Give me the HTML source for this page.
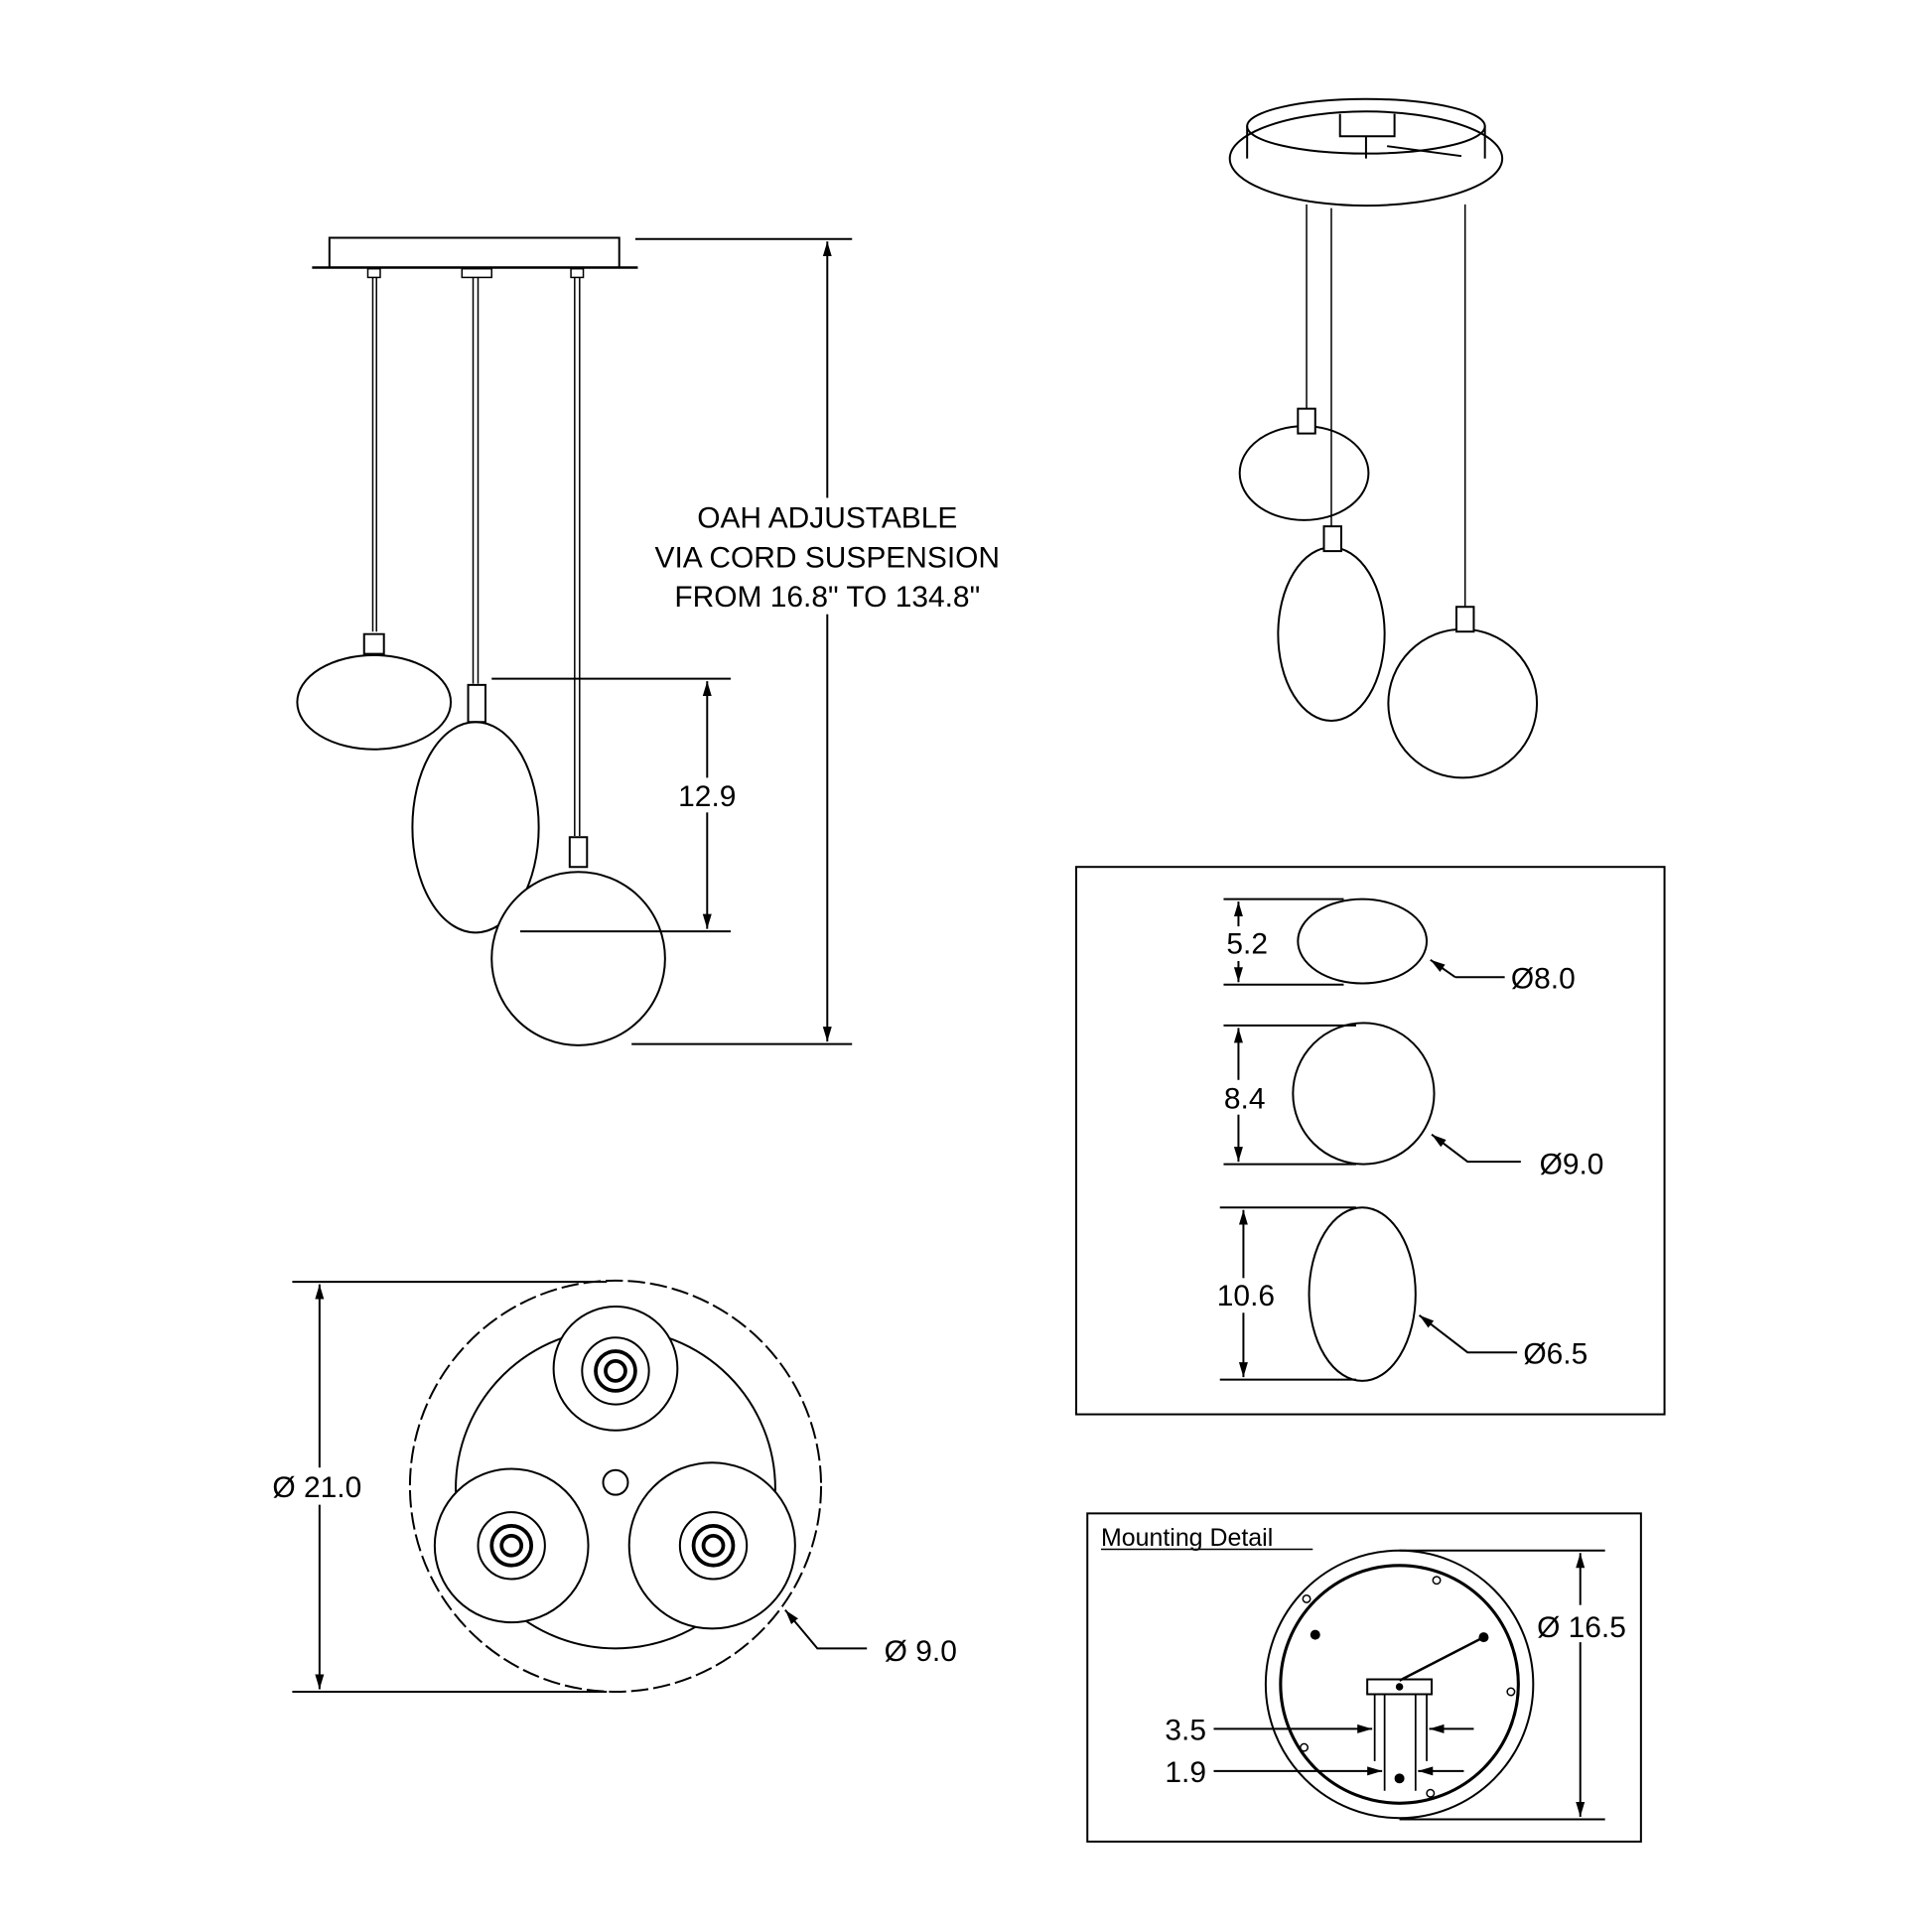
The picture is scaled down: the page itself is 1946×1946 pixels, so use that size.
<!DOCTYPE html>
<html><head><style>html,body{margin:0;padding:0;background:#fff}svg{display:block}</style></head><body>
<svg width="1946" height="1946" viewBox="0 0 1560 1560" xmlns="http://www.w3.org/2000/svg" font-family="'Liberation Sans', sans-serif" fill="none" stroke="#000" stroke-width="1.6">
<defs><marker id="a" viewBox="0 0 10 10" refX="10" refY="5" markerWidth="12" markerHeight="12" orient="auto-start-reverse" markerUnits="userSpaceOnUse"><path d="M0,2 L10,5 L0,8z" fill="#000" stroke="none"/></marker></defs>
<!-- Elevation -->
<rect x="266" y="192" width="234" height="24"/>
<line x1="252" y1="216" x2="515" y2="216" stroke-width="2"/>
<line x1="513" y1="193" x2="688" y2="193"/>
<line x1="510" y1="843" x2="688" y2="843"/>
<line x1="668" y1="195" x2="668" y2="841" marker-start="url(#a)" marker-end="url(#a)"/>
<g stroke-width="1.2">
<rect x="297" y="217" width="10" height="7"/><rect x="373" y="217" width="24" height="7"/><rect x="461" y="217" width="10" height="7"/>
<line x1="301" y1="224" x2="301" y2="510"/><line x1="304" y1="224" x2="304" y2="510"/>
<line x1="382" y1="224" x2="382" y2="552"/><line x1="386" y1="224" x2="386" y2="552"/>
<line x1="464" y1="224" x2="464" y2="675"/><line x1="468" y1="224" x2="468" y2="675"/>
</g>
<path d="M294,512 h16 v16 h-16z M378,553 h14 v30 h-14z M460,676 h14 v24 h-14z" fill="#fff"/>
<ellipse cx="302" cy="567" rx="62" ry="38"/>
<ellipse cx="384" cy="668" rx="51" ry="85"/>
<circle cx="467" cy="774" r="70" fill="#fff"/>
<line x1="397" y1="548" x2="590" y2="548"/>
<line x1="420" y1="752" x2="590" y2="752"/>
<line x1="571" y1="550" x2="571" y2="750" marker-start="url(#a)" marker-end="url(#a)"/>
<rect x="545" y="628" width="52" height="28" fill="#fff" stroke="none"/>
<rect x="522" y="402" width="296" height="94" fill="#fff" stroke="none"/>
<g fill="#000" stroke="none" font-size="24">
<text x="571" y="651" text-anchor="middle">12.9</text>
<text x="668" y="426" text-anchor="middle">OAH ADJUSTABLE</text>
<text x="668" y="458" text-anchor="middle">VIA CORD SUSPENSION</text>
<text x="668" y="490" text-anchor="middle">FROM 16.8" TO 134.8"</text>
</g>
<!-- Iso view -->
<ellipse cx="1103" cy="128" rx="110" ry="38"/>
<ellipse cx="1103" cy="102" rx="96" ry="22"/>
<line x1="1007" y1="102" x2="1007" y2="128"/><line x1="1199" y1="102" x2="1199" y2="128"/>
<path d="M1082,92 v18 h44 v-18 M1103,110 v18 M1120,118 l60,8"/>
<g stroke-width="1.2">
<line x1="1055" y1="165" x2="1055" y2="330"/><line x1="1075" y1="168" x2="1075" y2="425"/><line x1="1183" y1="165" x2="1183" y2="490"/>
</g>
<ellipse cx="1053" cy="382" rx="52" ry="38"/>
<ellipse cx="1075" cy="512" rx="43" ry="70" fill="#fff"/>
<circle cx="1181" cy="568" r="60"/>
<rect x="1048" y="330" width="14" height="20" fill="#fff"/><rect x="1069" y="425" width="14" height="20" fill="#fff"/><rect x="1176" y="490" width="14" height="20" fill="#fff"/>
<!-- Right box -->
<rect x="869" y="700" width="475" height="442"/>
<ellipse cx="1100" cy="760" rx="52" ry="34"/>
<line x1="988" y1="726" x2="1085" y2="726"/><line x1="988" y1="795" x2="1085" y2="795"/>
<line x1="1000" y1="728" x2="1000" y2="793" marker-start="url(#a)" marker-end="url(#a)"/>
<path d="M1175,789 H1215 M1175,789 L1155,775" marker-end="url(#a)"/>
<circle cx="1101" cy="883" r="57"/>
<line x1="988" y1="828" x2="1095" y2="828"/><line x1="988" y1="940" x2="1095" y2="940"/>
<line x1="1000" y1="830" x2="1000" y2="938" marker-start="url(#a)" marker-end="url(#a)"/>
<path d="M1228,938 H1185 L1156,916" marker-end="url(#a)"/>
<ellipse cx="1100" cy="1045" rx="43" ry="70"/>
<line x1="985" y1="975" x2="1095" y2="975"/><line x1="985" y1="1114" x2="1095" y2="1114"/>
<line x1="1004" y1="977" x2="1004" y2="1112" marker-start="url(#a)" marker-end="url(#a)"/>
<path d="M1225,1092 H1185 L1146,1062" marker-end="url(#a)"/>
<rect x="980" y="748" width="50" height="28" fill="#fff" stroke="none"/>
<rect x="980" y="872" width="50" height="28" fill="#fff" stroke="none"/>
<rect x="978" y="1032" width="56" height="28" fill="#fff" stroke="none"/>
<g fill="#000" stroke="none" font-size="24">
<text x="1007" y="770" text-anchor="middle">5.2</text>
<text x="1005" y="895" text-anchor="middle">8.4</text>
<text x="1006" y="1054" text-anchor="middle">10.6</text>
<text x="1220" y="798">Ø8.0</text>
<text x="1243" y="948">Ø9.0</text>
<text x="1230" y="1101">Ø6.5</text>
</g>
<!-- Plan view -->
<circle cx="497" cy="1200" r="166" stroke-dasharray="14 4"/>
<circle cx="497" cy="1202" r="129"/>
<g fill="#fff">
<circle cx="497" cy="1105" r="50"/><circle cx="413" cy="1248" r="62"/><circle cx="575" cy="1248" r="67"/>
</g>
<g>
<circle cx="497" cy="1107" r="27"/><circle cx="497" cy="1107" r="16" stroke-width="3"/><circle cx="497" cy="1107" r="8" stroke-width="3"/>
<circle cx="413" cy="1248" r="27"/><circle cx="413" cy="1248" r="16" stroke-width="3"/><circle cx="413" cy="1248" r="8" stroke-width="3"/>
<circle cx="576" cy="1248" r="27"/><circle cx="576" cy="1248" r="16" stroke-width="3"/><circle cx="576" cy="1248" r="8" stroke-width="3"/>
<circle cx="497" cy="1197" r="10"/>
</g>
<line x1="236" y1="1035" x2="490" y2="1035"/><line x1="236" y1="1366" x2="490" y2="1366"/>
<line x1="258" y1="1037" x2="258" y2="1364" marker-start="url(#a)" marker-end="url(#a)"/>
<rect x="218" y="1185" width="82" height="30" fill="#fff" stroke="none"/>
<path d="M700,1331 H660 L634,1300" marker-end="url(#a)"/>
<g fill="#000" stroke="none" font-size="24">
<text x="220" y="1209">Ø 21.0</text>
<text x="714" y="1341">Ø 9.0</text>
</g>
<!-- Mounting -->
<rect x="878" y="1222" width="447" height="265"/>
<text x="889" y="1248" font-size="20" fill="#000" stroke="none">Mounting Detail</text>
<line x1="889" y1="1251" x2="1060" y2="1251" stroke-width="1.2"/>
<circle cx="1130" cy="1360" r="108"/>
<circle cx="1130" cy="1360" r="96" stroke-width="2.5"/>
<line x1="1130" y1="1252" x2="1296" y2="1252"/><line x1="1130" y1="1469" x2="1296" y2="1469"/>
<line x1="1276" y1="1254" x2="1276" y2="1467" marker-start="url(#a)" marker-end="url(#a)"/>
<rect x="1240" y="1296" width="80" height="30" fill="#fff" stroke="none"/>
<text x="1241" y="1322" font-size="24" fill="#000" stroke="none">Ø 16.5</text>
<rect x="1104" y="1356" width="52" height="12" fill="#fff"/>
<line x1="1130" y1="1357" x2="1198" y2="1322" stroke-width="2"/>
<g fill="#000" stroke="none"><circle cx="1198" cy="1322" r="4"/><circle cx="1062" cy="1320" r="4"/><circle cx="1130" cy="1436" r="4"/><circle cx="1130" cy="1362" r="3"/></g>
<g stroke-width="1.2"><circle cx="1160" cy="1276" r="3"/><circle cx="1055" cy="1291" r="3"/><circle cx="1220" cy="1366" r="3"/><circle cx="1053" cy="1411" r="3"/><circle cx="1155" cy="1448" r="3"/></g>
<g stroke-width="1.4"><line x1="1110" y1="1368" x2="1110" y2="1422"/><line x1="1118" y1="1368" x2="1118" y2="1446"/><line x1="1143" y1="1368" x2="1143" y2="1446"/><line x1="1152" y1="1368" x2="1152" y2="1422"/></g>
<line x1="980" y1="1396" x2="1108" y2="1396" marker-end="url(#a)"/>
<line x1="1190" y1="1396" x2="1154" y2="1396" marker-end="url(#a)"/>
<line x1="980" y1="1430" x2="1116" y2="1430" marker-end="url(#a)"/>
<line x1="1182" y1="1430" x2="1145" y2="1430" marker-end="url(#a)"/>
<g fill="#000" stroke="none" font-size="24">
<text x="974" y="1405" text-anchor="end">3.5</text>
<text x="974" y="1439" text-anchor="end">1.9</text>
</g>
</svg>
</body></html>
